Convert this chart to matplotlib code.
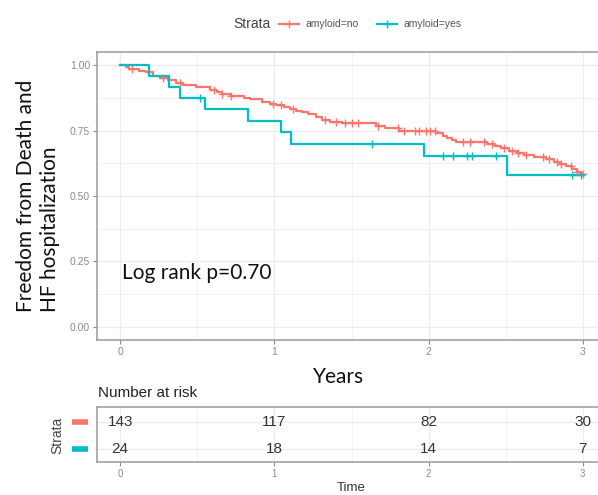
import numpy as np
import matplotlib
matplotlib.use("Agg")
import matplotlib.pyplot as plt
from matplotlib.lines import Line2D
from matplotlib.transforms import blended_transform_factory

# Kaplan-Meier step curves (time in years, survival after each drop)
no_times = [0.00, 0.04, 0.06, 0.12, 0.17, 0.21, 0.26, 0.31, 0.36, 0.41, 0.49,
            0.58, 0.63, 0.66, 0.71, 0.80, 0.84, 0.92, 0.97, 1.01, 1.06, 1.10,
            1.14, 1.18, 1.22, 1.27, 1.31, 1.36, 1.44, 1.66, 1.72, 1.81, 2.05,
            2.09, 2.12, 2.15, 2.18, 2.38, 2.43, 2.47, 2.52, 2.57, 2.62, 2.68,
            2.76, 2.81, 2.85, 2.89, 2.93, 2.96, 2.99, 3.00]
no_surv = [1.000, 0.993, 0.986, 0.979, 0.972, 0.958, 0.951, 0.944, 0.930,
           0.923, 0.916, 0.905, 0.898, 0.891, 0.883, 0.876, 0.869, 0.860,
           0.853, 0.847, 0.840, 0.833, 0.826, 0.819, 0.812, 0.803, 0.790,
           0.784, 0.777, 0.767, 0.758, 0.749, 0.740, 0.731, 0.722, 0.714,
           0.706, 0.698, 0.690, 0.682, 0.673, 0.665, 0.656, 0.648, 0.640,
           0.631, 0.622, 0.613, 0.602, 0.592, 0.583, 0.583]
no_censor = [0.08, 0.28, 0.39, 0.61, 0.66, 0.72, 0.99, 1.04, 1.12, 1.33,
             1.40, 1.46, 1.50, 1.54, 1.67, 1.80, 1.84, 1.91, 1.94, 1.98,
             2.01, 2.04, 2.22, 2.27, 2.36, 2.41, 2.49, 2.54, 2.58, 2.63,
             2.74, 2.78, 2.83, 2.86, 2.92, 2.96, 3.00]

yes_times = [0.00, 0.19, 0.32, 0.39, 0.55, 0.83, 1.04, 1.11, 1.97, 2.51, 2.99]
yes_surv = [1.000, 0.958, 0.917, 0.875, 0.831, 0.787, 0.743, 0.699, 0.652,
            0.580, 0.580]
yes_censor = [0.52, 1.63, 2.09, 2.16, 2.25, 2.28, 2.44, 2.93, 2.99]

# number at risk
risk_times = [0, 1, 2, 3]
risk_no = [143, 117, 82, 30]
risk_yes = [24, 18, 14, 7]

RED = "#F8766D"
TEAL = "#00BFC4"
GRID = "#EDEDED"
TICK = "#8a8a8a"
GG = ["Liberation Sans", "DejaVu Sans"]
CAL = ["Lato", "DejaVu Sans"]

fig = plt.figure(figsize=(5.98, 4.95), dpi=100)
W, H = 598, 495


def px_box(left, top, right, bottom):
    return [left / W, 1 - bottom / H, (right - left) / W, (bottom - top) / H]


def style_panel(ax):
    for sp in ax.spines.values():
        sp.set_color("#9a9a9a")
        sp.set_linewidth(1.1)
    ax.set_xlim(-0.15, 3.15)
    ax.set_xticks(risk_times)
    ax.set_xticks([0.5, 1.5, 2.5], minor=True)
    ax.grid(True, which="major", color=GRID, lw=0.9, zorder=0)
    ax.grid(True, which="minor", color=GRID, lw=0.5, zorder=0)
    ax.tick_params(which="major", length=3, width=0.8, color=TICK,
                   labelcolor=TICK, labelsize=7.5, pad=2)
    ax.tick_params(which="minor", length=0)
    for lab in ax.get_xticklabels() + ax.get_yticklabels():
        lab.set_family(GG)


# survival panel
ax = fig.add_axes(px_box(97, 52, 606, 340))
style_panel(ax)
ax.set_ylim(-0.05, 1.05)
ax.set_yticks([0, 0.25, 0.5, 0.75, 1.0])
ax.set_yticks([0.125, 0.375, 0.625, 0.875], minor=True)
ax.set_yticklabels([f"{v:.2f}" for v in [0, 0.25, 0.5, 0.75, 1.0]],
                   family=GG)
ax.set_xticklabels([str(t) for t in risk_times], family=GG)


def km(times, surv, censor, color):
    ax.step(times, surv, where="post", color=color, lw=1.6, zorder=3)
    t = np.asarray(times)
    s = np.asarray(surv)
    idx = np.searchsorted(t, censor, side="right") - 1
    ax.plot(censor, s[idx], ls="none", marker="+", ms=6, mew=1.0,
            color=color, zorder=4)


km(no_times, no_surv, no_censor, RED)
km(yes_times, yes_surv, yes_censor, TEAL)

ax.text(0.01, 0.205, "Log rank p=0.70", family=CAL, fontsize=15,
        color="#111111", ha="left", va="center")

fig.text(38 / W, 1 - 196 / H, "Freedom from Death and\nHF hospitalization",
         rotation=90, ha="center", va="center", multialignment="left",
         family=CAL, fontsize=15, color="#111111", linespacing=1.25)
fig.text(339 / W, 1 - 377 / H, "Years", family=CAL, fontsize=15,
         color="#111111", ha="center", va="center")

# legend row
ly = 1 - 24 / H
fig.text(233 / W, ly, "Strata", family=GG, fontsize=10, color="#444444",
         ha="left", va="center")
for x0, x1, color, label in [(279, 299, RED, "amyloid=no"),
                             (377, 397, TEAL, "amyloid=yes")]:
    fig.add_artist(Line2D([x0 / W, x1 / W], [ly, ly], color=color, lw=1.6,
                          transform=fig.transFigure))
    fig.add_artist(Line2D([(x0 + x1) / 2 / W], [ly], color=color, marker="+",
                          ms=6, mew=1.0, transform=fig.transFigure))
    fig.text((x1 + 7) / W, ly, label, family=GG, fontsize=7.5,
             color="#555555", ha="left", va="center")

# risk table
tab = fig.add_axes(px_box(97, 407, 606, 462))
style_panel(tab)
tab.set_ylim(0.52, 2.556)
tab.set_yticks([1, 2])
tab.set_yticklabels([])
tab.tick_params(axis="y", length=0)
tab.set_xticklabels([str(t) for t in risk_times], family=GG)
tab.tick_params(axis="x", labelsize=7)
for t, n in zip(risk_times, risk_no):
    tab.text(t, 2, str(n), ha="center", va="center", family=GG,
             fontsize=11, color="#333333", zorder=5)
for t, n in zip(risk_times, risk_yes):
    tab.text(t, 1, str(n), ha="center", va="center", family=GG,
             fontsize=11, color="#333333", zorder=5)

blend = blended_transform_factory(fig.transFigure, tab.transData)
for row, color in [(2, RED), (1, TEAL)]:
    fig.add_artist(Line2D([72 / W, 88 / W], [row, row], color=color, lw=4,
                          solid_capstyle="butt", transform=blend))

fig.text(57 / W, 1 - 435 / H, "Strata", rotation=90, family=GG,
         fontsize=10, color="#444444", ha="center", va="center")
fig.text(98 / W, 1 - 393 / H, "Number at risk", family=GG, fontsize=11,
         color="#222222", ha="left", va="center")
fig.text(351 / W, 1 - 488 / H, "Time", family=GG, fontsize=9.5,
         color="#333333", ha="center", va="center")

fig.savefig("out.png", dpi=100)
